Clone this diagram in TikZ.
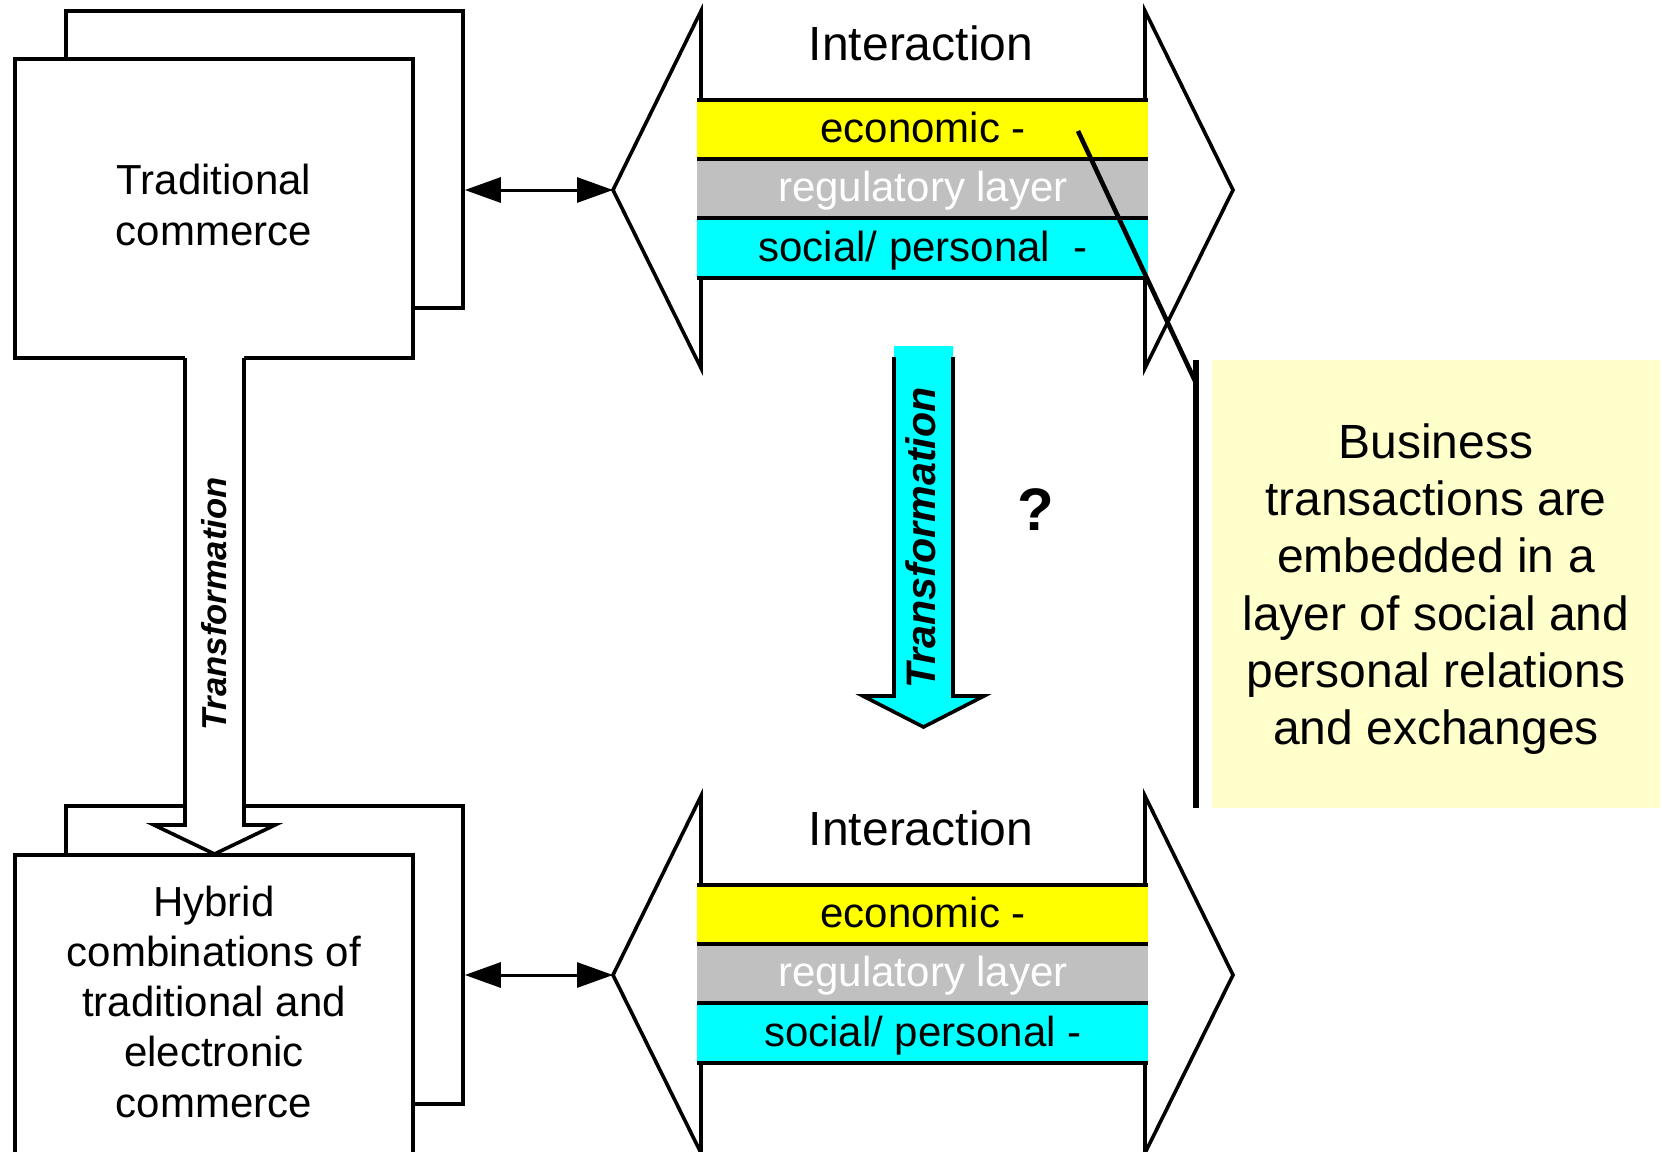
\documentclass[tikz,border=0pt]{standalone}
\usepackage{fontspec}
\setmainfont{Liberation Sans}
\usetikzlibrary{arrows.meta}
\definecolor{layeryellow}{HTML}{FFFF00}
\definecolor{layergrey}{HTML}{C0C0C0}
\definecolor{layercyan}{HTML}{00FFFF}
\definecolor{notebg}{HTML}{FFFFCC}

\tikzset{
  outline/.style={draw=black, line width=1.8pt, line join=miter},
  card/.style={outline, fill=white, inner sep=0pt},
  sepline/.style={black, line width=2pt},
  biarrow/.style={line width=1.5pt,
    {Triangle[length=18pt,width=12.5pt]}-{Triangle[length=18pt,width=12.5pt]}},
  boxtext/.style={font=\fontsize{21}{25.5}\selectfont, align=center},
  layertext/.style={font=\fontsize{21}{25}\selectfont, anchor=base, inner sep=0pt},
  turnedlabel/.style={rotate=90, inner sep=0pt},
  pics/layerarrow/.style={code={
    \coordinate (-tip) at (613,190);
    \coordinate (-rtip) at (1233,190);
    % the three coloured layers forming the shaft
    \fill[layeryellow] (697,100) rectangle (1148,159);
    \fill[layergrey] (697,159) rectangle (1148,218);
    \fill[layercyan] (697,218) rectangle (1148,278);
    \foreach \yy in {100,159,218,278} \draw[sepline] (697,\yy) -- (1148,\yy);
    % open arrow heads on both ends
    \draw[outline] (701,100) -- (701,11) -- (-tip) -- (701,368) -- (701,278);
    \draw[outline] (1145,100) -- (1145,11) -- (-rtip) -- (1145,368) -- (1145,278);
    \node[layertext, font=\fontsize{24}{28}\selectfont] (-title) at (921,60) {Interaction};
    \node[layertext] (-eco) at (923,142) {economic -};
    \node[layertext, text=white] (-reg) at (923,201) {regulatory layer};
    \node[layertext] (-soc) at (923,261) {#1};
  }},
}

\begin{document}
\begin{tikzpicture}[x=0.5pt,y=-0.5pt]
\useasboundingbox (0,0) rectangle (1662,1152);

% traditional commerce: stacked cards
\node[card, minimum width=198.5pt, minimum height=148.5pt] (tcback) at (264.5,159.5) {};
\node[card, boxtext, text depth=4pt, minimum width=199pt, minimum height=149.5pt] (tc) at (214,208.5) {Traditional\\commerce};

% hybrid commerce: stacked cards
\node[card, minimum width=198.5pt, minimum height=149pt] (hyback) at (264.5,955) {};
\node[card, boxtext, text depth=3pt, font=\fontsize{21}{25.1}\selectfont, minimum width=199pt, minimum height=149.5pt] (hy) at (214,1004.5)
  {Hybrid\\combinations of\\traditional and\\electronic\\commerce};

% hollow transformation arrow between the cards
\fill[white] (185,355) -- (185,825) -- (154,825) -- (214.5,854) -- (275,825) -- (244,825) -- (244,355) -- cycle;
\draw[outline] (185,358) -- (185,825) -- (154,825) -- (214.5,854) -- (275,825) -- (244,825) -- (244,358);
\node[turnedlabel, font=\fontsize{17.3}{20}\selectfont\bfseries\itshape] (tlabel) at (214.5,604) {Transformation};

% interaction layers
\pic (upper) at (0,0) {layerarrow={social/ personal~~-}};
\pic (lower) at (0,785) {layerarrow={social/ personal -}};

\draw[biarrow] (tcback.east |- upper-tip) -- (upper-tip);
\draw[biarrow] (hyback.east |- lower-tip) -- (lower-tip);

% cyan transformation arrow
\fill[layercyan] (894,346) -- (894,696) -- (863,696) -- (923.5,727) -- (984,696) -- (953,696) -- (953,346) -- cycle;
\draw[outline] (894,357) -- (894,696) -- (863,696) -- (923.5,727) -- (984,696) -- (953,696) -- (953,357);
\node[turnedlabel, font=\fontsize{20.6}{24}\selectfont\bfseries\itshape] (clabel) at (921,538) {Transformation};

\node[font=\fontsize{30}{36}\selectfont\bfseries] (qm) at (1036,510) {?};

% callout to the note
\coordinate (calloutstart) at (1078,131);
\coordinate (calloutend) at (1196,383);
\coordinate (bartop) at (1196,360);
\coordinate (barbottom) at (1196,808);
\draw[line width=2.3pt] (calloutstart) -- (calloutend);
\draw[line width=2.8pt] (bartop) -- (barbottom);

\node[fill=notebg, minimum width=224pt, minimum height=224pt, inner sep=0pt, align=center, text depth=0pt,
  font=\fontsize{24}{28.6}\selectfont] (note) at (1436,584)
  {Business\\transactions are\\embedded in a\\layer of social and\\personal relations\\and exchanges};
\end{tikzpicture}
\end{document}
